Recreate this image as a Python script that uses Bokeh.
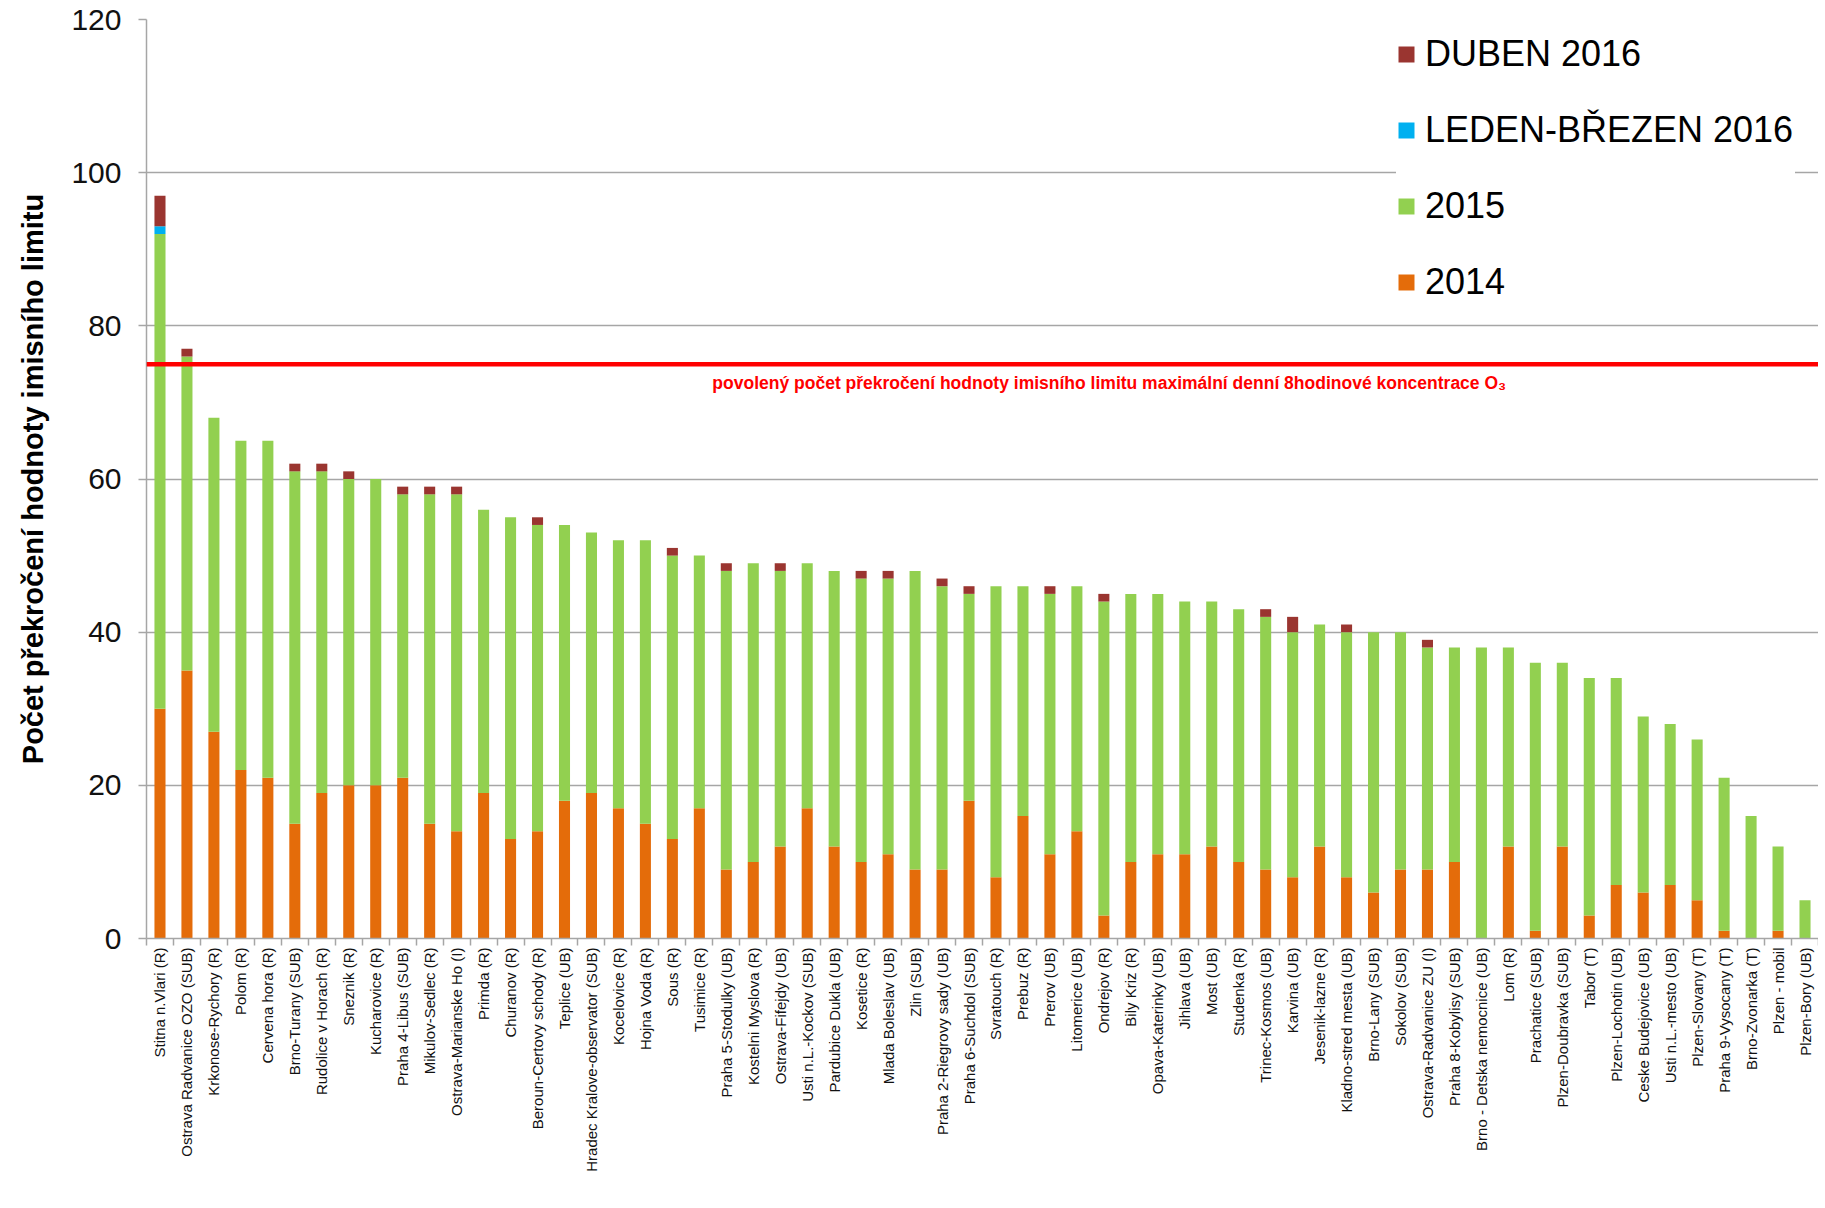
from bokeh.plotting import figure
from bokeh.models import (ColumnDataSource, Range1d, FixedTicker, Legend,
                          LegendItem, Span, Label)
from bokeh.embed import file_html
from bokeh.resources import INLINE
import math

stations = [
    "Stitna n.Vlari (R)", "Ostrava Radvanice OZO (SUB)", "Krkonose-Rychory (R)", "Polom (R)",
    "Cervena hora (R)", "Brno-Turany (SUB)", "Rudolice v Horach (R)", "Sneznik (R)",
    "Kucharovice (R)", "Praha 4-Libus (SUB)", "Mikulov-Sedlec (R)", "Ostrava-Marianske Ho (I)",
    "Primda (R)", "Churanov (R)", "Beroun-Certovy schody (R)", "Teplice (UB)",
    "Hradec Kralove-observator (SUB)", "Kocelovice (R)", "Hojna Voda (R)", "Sous (R)",
    "Tusimice (R)", "Praha 5-Stodulky (UB)", "Kostelni Myslova (R)", "Ostrava-Fifejdy (UB)",
    "Usti n.L.-Kockov (SUB)", "Pardubice Dukla (UB)", "Kosetice (R)", "Mlada Boleslav (UB)",
    "Zlin (SUB)", "Praha 2-Riegrovy sady (UB)", "Praha 6-Suchdol (SUB)", "Svratouch (R)",
    "Prebuz (R)", "Prerov (UB)", "Litomerice (UB)", "Ondrejov (R)",
    "Bily Kriz (R)", "Opava-Katerinky (UB)", "Jihlava (UB)", "Most (UB)",
    "Studenka (R)", "Trinec-Kosmos (UB)", "Karvina (UB)", "Jesenik-lazne (R)",
    "Kladno-stred mesta (UB)", "Brno-Lany (SUB)", "Sokolov (SUB)", "Ostrava-Radvanice ZU (I)",
    "Praha 8-Kobylisy (SUB)", "Brno - Detska nemocnice (UB)", "Lom (R)", "Prachatice (SUB)",
    "Plzen-Doubravka (SUB)", "Tabor (T)", "Plzen-Lochotin (UB)", "Ceske Budejovice (UB)",
    "Usti n.L.-mesto (UB)", "Plzen-Slovany (T)", "Praha 9-Vysocany (T)", "Brno-Zvonarka (T)",
    "Plzen - mobil", "Plzen-Bory (UB)",
]

v2014 = [30, 35, 27, 22, 21, 15, 19, 20, 20, 21, 15, 14, 19, 13, 14, 18, 19, 17, 15, 13,
         17, 9, 10, 12, 17, 12, 10, 11, 9, 9, 18, 8, 16, 11, 14, 3, 10, 11, 11, 12,
         10, 9, 8, 12, 8, 6, 9, 9, 10, 0, 12, 1, 12, 3, 7, 6, 7, 5, 1, 0,
         1, 0]

v2015 = [62, 41, 41, 43, 44, 46, 42, 40, 40, 37, 43, 44, 37, 42, 40, 36, 34, 35, 37, 37,
         33, 39, 39, 36, 32, 36, 37, 36, 39, 37, 27, 38, 30, 34, 32, 41, 35, 34, 33, 32,
         33, 33, 32, 29, 32, 34, 31, 29, 28, 38, 26, 35, 24, 31, 27, 23, 21, 21, 20, 16,
         11, 5]

v_jan_mar_2016 = [1, 0, 0, 0, 0, 0, 0, 0, 0, 0, 0, 0, 0, 0, 0, 0, 0, 0, 0, 0,
                  0, 0, 0, 0, 0, 0, 0, 0, 0, 0, 0, 0, 0, 0, 0, 0, 0, 0, 0, 0,
                  0, 0, 0, 0, 0, 0, 0, 0, 0, 0, 0, 0, 0, 0, 0, 0, 0, 0, 0, 0,
                  0, 0]

v_apr_2016 = [4, 1, 0, 0, 0, 1, 1, 1, 0, 1, 1, 1, 0, 0, 1, 0, 0, 0, 0, 1,
              0, 1, 0, 1, 0, 0, 1, 1, 0, 1, 1, 0, 0, 1, 0, 1, 0, 0, 0, 0,
              0, 1, 2, 0, 1, 0, 0, 1, 0, 0, 0, 0, 0, 0, 0, 0, 0, 0, 0, 0,
              0, 0]

series_labels = ["2014", "2015", "LEDEN-BŘEZEN 2016", "DUBEN 2016"]
series_colors = ["#E46C0A", "#92D050", "#00B0F0", "#9A3530"]
limit_value = 75
limit_text = "povolený počet překročení hodnoty imisního limitu maximální denní 8hodinové koncentrace O₃"
y_ticks = [0, 20, 40, 60, 80, 100, 120]
y_title = "Počet překročení hodnoty imisního limitu"

FONT = "Liberation Sans"
GRID = "#A6A6A6"

n = len(stations)
centers = [i + 0.5 for i in range(n)]
boundaries = list(range(n + 1))

source = ColumnDataSource(dict(x=centers, s2014=v2014, s2015=v2015,
                               sjm=v_jan_mar_2016, sapr=v_apr_2016))

p = figure(width=1818, height=1200, x_range=Range1d(0, n), y_range=Range1d(0, 120),
           output_backend="svg", toolbar_location=None,
           min_border_left=146, min_border_right=0, min_border_top=19, min_border_bottom=262)

renderers = p.vbar_stack(["s2014", "s2015", "sjm", "sapr"], x="x", width=0.41,
                         color=series_colors, line_color=None, source=source)

xa = p.xaxis[0]
xa.ticker = FixedTicker(ticks=centers, minor_ticks=boundaries)
xa.major_label_overrides = {c: s for c, s in zip(centers, stations)}
xa.major_label_orientation = math.pi / 2
xa.major_label_text_font = FONT
xa.major_label_text_font_size = "15px"
xa.major_label_text_color = "#111111"
xa.major_label_standoff = 2
xa.axis_line_color = GRID
xa.axis_line_width = 1.5
xa.major_tick_line_color = None
xa.major_tick_out = 7
xa.major_tick_in = 0
xa.minor_tick_line_color = GRID
xa.minor_tick_line_width = 1.5
xa.minor_tick_out = 7
xa.minor_tick_in = 0

ya = p.yaxis[0]
ya.ticker = FixedTicker(ticks=y_ticks)
ya.major_label_text_font = FONT
ya.major_label_text_font_size = "30px"
ya.major_label_text_color = "#111111"
ya.major_label_standoff = 17
ya.axis_line_color = GRID
ya.axis_line_width = 1.5
ya.major_tick_line_color = GRID
ya.major_tick_line_width = 1.5
ya.major_tick_out = 8
ya.major_tick_in = 0
ya.minor_tick_line_color = None
ya.axis_label = y_title
ya.axis_label_text_font = FONT
ya.axis_label_text_font_style = "bold"
ya.axis_label_text_font_size = "29px"
ya.axis_label_text_color = "#000000"
ya.axis_label_standoff = 19

p.ygrid.grid_line_color = GRID
p.ygrid.grid_line_width = 1.5
p.xgrid.grid_line_color = None
p.outline_line_color = None
p.background_fill_color = "white"
p.border_fill_color = "white"

p.add_layout(Span(location=limit_value, dimension="width", line_color="#FF0000", line_width=4.5))
p.add_layout(Label(x=35.7, y=72.6, text=limit_text,
                   text_align="center", text_baseline="middle", text_color="#FF0000",
                   text_font=FONT, text_font_style="bold", text_font_size="17.5px"))

items = [LegendItem(label=series_labels[i], renderers=[renderers[i]]) for i in (3, 2, 1, 0)]
legend = Legend(items=items, location=(1250, 635), padding=20, margin=0, spacing=34,
                glyph_width=20, glyph_height=20, label_standoff=9, label_height=42,
                label_width=370,
                label_text_font=FONT, label_text_font_size="36px", label_text_color="#000000",
                background_fill_color="white", background_fill_alpha=1.0,
                border_line_color=None)
p.add_layout(legend, "center")

open("out.html", "w").write(file_html(p, INLINE))
